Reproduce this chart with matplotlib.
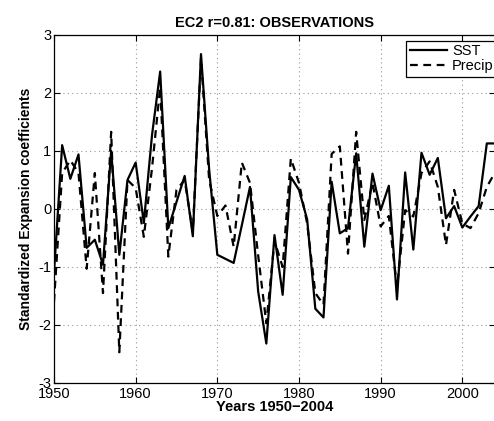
import matplotlib.pyplot as plt

plt.rcParams['font.family'] = ['Liberation Sans', 'DejaVu Sans']
plt.rcParams['axes.unicode_minus'] = False

years = list(range(1950, 2005))

# EC2 standardized expansion coefficients
sst = [-1.1, 1.1, 0.52, 0.94, -0.67, -0.53, -0.96, 1.0, -0.79, 0.5,
       0.8, -0.24, 1.27, 2.37, -0.33, 0.12, 0.57, -0.47, 2.67, 0.68,
       -0.79, -0.86, -0.93, -0.28, 0.38, -1.42, -2.32, -0.45, -1.48, 0.55,
       0.33, -0.18, -1.72, -1.87, 0.47, -0.42, -0.33, 0.96, -0.65, 0.61,
       -0.02, 0.4, -1.56, 0.63, -0.7, 0.97, 0.59, 0.88, -0.16, 0.05,
       -0.32, -0.13, 0.05, 1.13, 1.13]
precip = [-1.6, 0.62, 0.84, 0.62, -1.03, 0.62, -1.45, 1.33, -2.47, 0.5,
          0.36, -0.48, 0.7, 2.1, -0.82, 0.33, 0.5, -0.4, 2.6, 0.5,
          -0.12, 0.06, -0.65, 0.8, 0.45, -0.8, -1.97, -0.55, -1.0, 0.87,
          0.45, -0.25, -1.45, -1.65, 0.95, 1.08, -0.77, 1.33, -0.19, 0.45,
          -0.3, -0.12, -1.35, -0.02, -0.13, 0.62, 0.82, 0.38, -0.62, 0.33,
          -0.25, -0.33, -0.07, 0.38, 0.63]

fig = plt.figure(figsize=(4.94, 4.21), dpi=100)
ax = fig.add_axes([0.1093, 0.0903, 0.8927, 0.8266])

ax.plot(years, sst, color='black', lw=1.6, label='SST')
ax.plot(years, precip, color='black', lw=1.6, ls=(0, (3.5, 2.5)), label='Precip')

ax.set_xlim(1950, 2004)
ax.set_ylim(-3, 3)
ax.set_xticks([1950, 1960, 1970, 1980, 1990, 2000])
ax.set_yticks([-3, -2, -1, 0, 1, 2, 3])
ax.grid(True, color='#999999', ls=(0, (1, 3)), lw=0.8)
ax.tick_params(direction='in', top=True, right=True, labelsize=10.5, length=4, pad=2)
ax.tick_params(axis='x', pad=3)
for s in ax.spines.values():
    s.set_linewidth(0.9)

ax.set_title('EC2 r=0.81: OBSERVATIONS', fontsize=10.5, fontweight='bold', pad=6)
ax.set_xlabel('Years 1950\u22122004', fontsize=10.5, fontweight='bold', labelpad=-1)
ax.set_ylabel('Standardized Expansion coefficients', fontsize=10, fontweight='bold', labelpad=4)

leg = ax.legend(loc='upper left', bbox_to_anchor=(0.798, 0.984), fontsize=10.5,
                frameon=True, fancybox=False, edgecolor='black', framealpha=1,
                handlelength=2.6, handletextpad=0.3, borderpad=0.25,
                labelspacing=0.05, borderaxespad=0)
leg.get_frame().set_linewidth(0.9)

fig.savefig('out.png', dpi=100)
